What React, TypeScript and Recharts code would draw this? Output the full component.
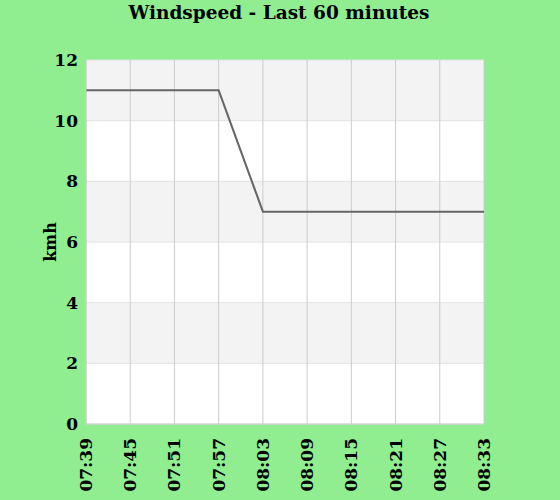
import { LineChart, Line, XAxis, YAxis, CartesianGrid } from 'recharts';

const times = ['07:39', '07:45', '07:51', '07:57', '08:03', '08:09', '08:15', '08:21', '08:27', '08:33'];
const windspeed = [11, 11, 11, 11, 7, 7, 7, 7, 7, 7];
const yTicks = [0, 2, 4, 6, 8, 10, 12];

const data = times.map((t, i) => ({ time: t, kmh: windspeed[i] }));

const font = '"DejaVu Serif", serif';
const tickStyle = { fill: '#000', fontFamily: font, fontWeight: 'bold', fontSize: 17 };

const TimeTick = ({ x, y, payload }: any) => (
  <text
    x={x}
    y={y}
    transform={`rotate(-90, ${x}, ${y})`}
    textAnchor="end"
    dominantBaseline="central"
    fill="#000"
    fontFamily={font}
    fontWeight="bold"
    fontSize={17}
  >
    {payload.value}
  </text>
);

const AxisTitle = ({ viewBox }: any) => {
  const cx = viewBox.x + 50;
  const cy = viewBox.y + viewBox.height / 2;
  return (
    <text
      x={cx}
      y={cy}
      transform={`rotate(-90, ${cx}, ${cy})`}
      textAnchor="middle"
      dominantBaseline="central"
      fill="#000"
      fontFamily={font}
      fontWeight="bold"
      fontSize={16}
    >
      kmh
    </text>
  );
};

const App = () => (
  <div style={{ position: 'absolute', top: 0, left: 0, width: 560, height: 500, background: '#90EE90' }}>
    <LineChart width={560} height={500} data={data} margin={{ top: 60, right: 76, bottom: 0, left: 0 }}>
      <text
        x={279}
        y={19}
        textAnchor="middle"
        fill="#000"
        fontFamily={font}
        fontWeight="bold"
        fontSize={18.5}
      >
        Windspeed - Last 60 minutes
      </text>
      <CartesianGrid vertical={false} stroke="#e2e2e2" horizontalFill={['#f3f3f3', '#ffffff']} />
      <CartesianGrid horizontal={false} stroke="#cccccc" />
      <XAxis
        dataKey="time"
        height={76}
        interval={0}
        tickLine={false}
        tickSize={6}
        tickMargin={8}
        axisLine={{ stroke: '#cccccc' }}
        tick={<TimeTick />}
      />
      <YAxis
        width={86}
        domain={[0, 12]}
        ticks={yTicks}
        tickLine={false}
        axisLine={{ stroke: '#cccccc' }}
        tick={tickStyle}
        label={<AxisTitle />}
      />
      <Line
        type="linear"
        dataKey="kmh"
        stroke="#666666"
        strokeWidth={2}
        dot={false}
        isAnimationActive={false}
      />
    </LineChart>
  </div>
);

export default App;
